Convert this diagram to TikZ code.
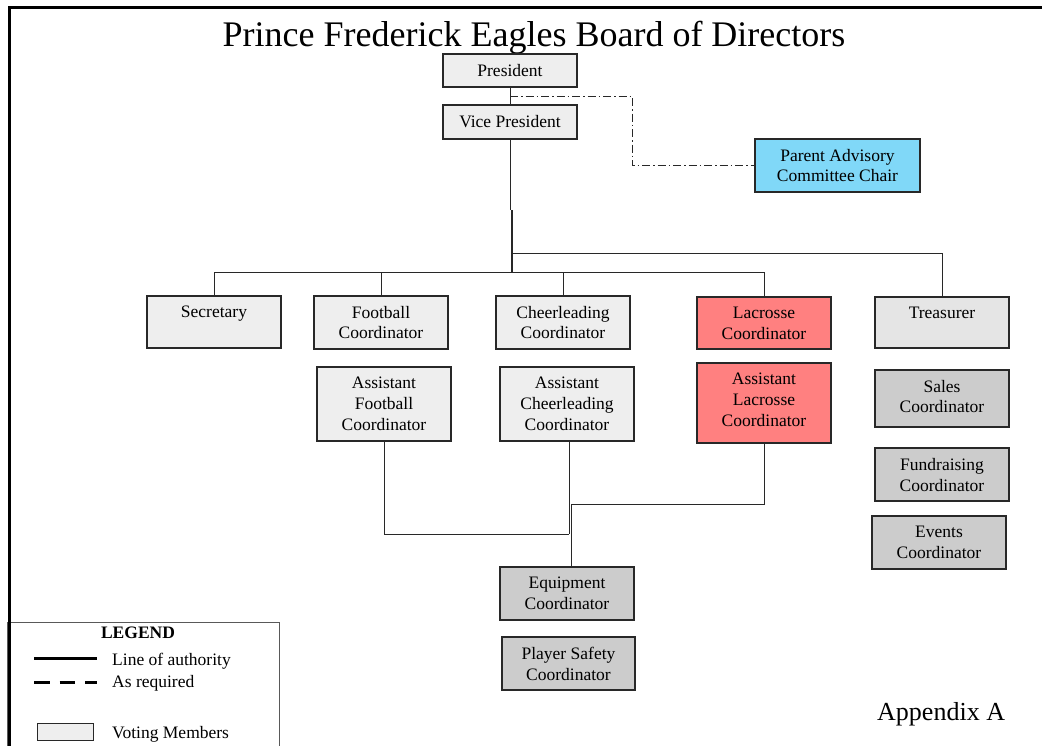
\documentclass[tikz,border=0pt]{standalone}
\usepackage{fontspec}
\setmainfont{Liberation Serif}
\usetikzlibrary{calc}
\definecolor{vgray}{RGB}{238,238,238}
\definecolor{tgray}{RGB}{229,229,229}
\definecolor{dgray}{RGB}{204,204,204}
\definecolor{lred}{RGB}{255,128,128}
\definecolor{lblue}{RGB}{128,216,248}
\definecolor{edgec}{RGB}{40,40,40}
\newcommand\orgbox[7]{%
  \node[bx, fill=#6, minimum width=#4pt, minimum height=#5pt] (#1) at (#2,#3) {};
  \node[bxt] (#1-t) at ([yshift=-10.5pt]#1.north) {#7};}
\begin{document}
\begin{tikzpicture}[x=1pt,y=-1pt,
  bx/.style={draw=edgec, line width=1.1pt, inner sep=0pt, rectangle},
  bxt/.style={anchor=north, align=center, inner sep=0pt, font=\fontsize{17.5}{20.7}\selectfont},
  con/.style={draw=edgec, line width=0.9pt},
  dd/.style={draw=edgec, line width=0.9pt, dash pattern=on 8pt off 3pt on 1.5pt off 3pt},
  lgt/.style={anchor=base west, inner sep=0pt, font=\fontsize{17.5}{20.7}\selectfont}]
\useasboundingbox (0,0) rectangle (1042,745);

% legend box (below frame)
\draw[draw=black!65, line width=0.8pt] (7,622) rectangle (279,760);

% frame
\draw[line width=3pt, line join=miter] (9,760) -- (9,7.5) -- (1050,7.5);

% title
\node[anchor=base, inner sep=0pt, font=\fontsize{36}{40}\selectfont] (title) at (534,46) {Prince Frederick Eagles Board of Directors};

% boxes
\orgbox{pres}{510}{70.5}{134}{33}{vgray}{President}
\orgbox{vp}{510}{122}{134}{34}{vgray}{Vice President}
\orgbox{pac}{837.5}{165.5}{165}{53}{lblue}{Parent Advisory\\Committee Chair}
\orgbox{sec}{214}{322}{134}{52}{vgray}{Secretary}
\orgbox{fb}{381}{322.5}{134}{53}{vgray}{Football\\Coordinator}
\orgbox{ch}{563}{322.5}{134}{53}{vgray}{Cheerleading\\Coordinator}
\orgbox{lac}{764}{323}{134}{52}{lred}{Lacrosse\\Coordinator}
\orgbox{tre}{942}{322.5}{134}{51}{tgray}{Treasurer}
\orgbox{afb}{384}{404}{134}{74}{vgray}{Assistant\\Football\\Coordinator}
\orgbox{ach}{567}{404}{134}{74}{vgray}{Assistant\\Cheerleading\\Coordinator}
\orgbox{ala}{764}{403}{134}{80}{lred}{Assistant\\Lacrosse\\Coordinator}
\orgbox{sal}{942}{398.5}{134}{57}{dgray}{Sales\\Coordinator}
\orgbox{fun}{942}{474.5}{134}{53}{dgray}{Fundraising\\Coordinator}
\orgbox{evt}{939}{542.5}{134}{53}{dgray}{Events\\Coordinator}
\orgbox{eqp}{567}{593.5}{134}{53}{dgray}{Equipment\\Coordinator}
\orgbox{pls}{568.5}{663.5}{133}{53}{dgray}{Player Safety\\Coordinator}

% connectors
\coordinate (pv) at (510,96);
\coordinate (dk) at (632,96);
\coordinate (b0) at (510,210);
\coordinate (b1) at (512,210);
\coordinate (busA) at (512,253);
\coordinate (busB) at (512,272);
\coordinate (j1) at (569,534);
\coordinate (j2) at (571,504);

\draw[con] (pres.south) -- (vp.north);
\draw[dd] (pv) -- (dk) |- (pac.west);
\draw[con] (vp.south) -- (b0);
\draw[con, line width=1.4pt] (b1) -- (busB);
\draw[con] (busA) -| (tre.north);
\draw[con] (sec.north) -- (sec.north |- busB) -- (lac.north |- busB) -- (lac.north);
\draw[con] (fb.north) -- (fb.north |- busB);
\draw[con] (ch.north) -- (ch.north |- busB);

\draw[con] (afb.south) |- (j1);
\draw[con] (j1 |- ach.south) -- (j1);
\draw[con] (ala.south) |- (j2) -- (j2 |- eqp.north);

% legend
\node[anchor=base, inner sep=0pt, font=\fontsize{17.5}{20}\selectfont\bfseries] (lgd) at (138,638) {LEGEND};
\coordinate (ls1) at (34,658);
\coordinate (ls2) at (97,658);
\draw[line width=3pt] (ls1) -- (ls2);
\coordinate (ld1) at (34,682);
\coordinate (ld2) at (97,682);
\draw[line width=3pt, dash pattern=on 15.5pt off 10pt] (ld1) -- (ld2);
\node[lgt] (l1) at (112,665) {Line of authority};
\node[lgt] (l2) at (112,687) {As required};
\node[bx, fill=vgray, line width=0.8pt, minimum width=56pt, minimum height=17pt] (vbox) at (65,731.5) {};
\node[lgt] (l3) at (112,738) {Voting Members};

% appendix
\node[anchor=base west, inner sep=0pt, font=\fontsize{26}{30}\selectfont] (app) at (877,720) {Appendix A};
\end{tikzpicture}
\end{document}
